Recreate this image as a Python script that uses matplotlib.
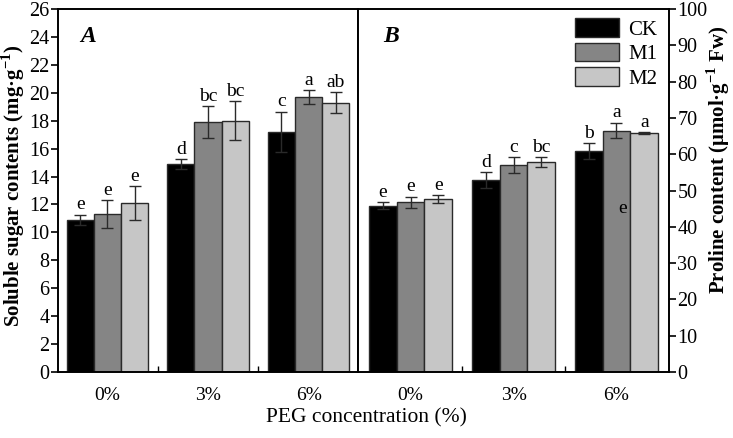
import numpy as np
import matplotlib
matplotlib.use("Agg")
import matplotlib.pyplot as plt
from matplotlib.ticker import MultipleLocator, FixedLocator

plt.rcParams['font.family'] = ['Liberation Serif', 'DejaVu Serif']
plt.rcParams['mathtext.fontset'] = 'custom'
plt.rcParams['mathtext.rm'] = 'Liberation Serif'
plt.rcParams['mathtext.bf'] = 'Liberation Serif:bold'

# data
conc = ["0%", "3%", "6%"]
treatments = ["CK", "M1", "M2"]
colors = ["#000000", "#858585", "#c6c6c6"]

sugar = [[10.9, 14.9, 17.2],     # CK
         [11.3, 17.9, 19.7],     # M1
         [12.1, 18.0, 19.3]]     # M2
sugar_err = [[0.38, 0.36, 1.45],
             [1.0, 1.12, 0.5],
             [1.2, 1.4, 0.72]]
sugar_lbl = [["e", "d", "c"],
             ["e", "bc", "a"],
             ["e", "bc", "ab"]]

proline = [[45.8, 52.9, 60.8],
           [46.7, 57.0, 66.5],
           [47.6, 57.8, 65.9]]
proline_err = [[1.0, 2.1, 2.2],
               [1.55, 2.1, 2.15],
               [1.1, 1.4, 0.2]]
proline_lbl = [["e", "d", "b"],
               ["e", "c", "a"],
               ["e", "bc", "a"]]

W, H = 733, 438
fig = plt.figure(figsize=(W / 100, H / 100), dpi=100)
bot = (H - 372) / H
hgt = 363 / H
ax1 = fig.add_axes([58 / W, bot, 300 / W, hgt])
ax2 = fig.add_axes([358 / W, bot, 311 / W, hgt])

x = np.arange(len(conc))
bw = 0.27


def draw(ax, vals, errs, lbls, ymax):
    for i in range(3):
        xi = x + (i - 1) * bw
        ax.bar(xi, vals[i], bw, color=colors[i], edgecolor="#2a2a2a",
               linewidth=1.0, label=treatments[i], zorder=2)
        ax.errorbar(xi, vals[i], yerr=errs[i], fmt="none", ecolor="#2a2a2a",
                    elinewidth=1.0, capsize=4, capthick=1.0, zorder=3)
        for j in range(3):
            ax.annotate(lbls[i][j], (xi[j], vals[i][j] + errs[i][j]),
                        xytext=(0, 1), textcoords="offset points",
                        ha="center", va="bottom", fontsize=14)
    ax.set_ylim(0, ymax)
    ax.set_xticks(x)
    ax.set_xticklabels(conc, fontsize=14)
    ax.xaxis.set_minor_locator(FixedLocator([0.5, 1.5]))
    ax.tick_params(axis="x", which="major", length=0, pad=11)
    ax.tick_params(axis="x", which="minor", direction="in", length=4, width=1)
    for s in ax.spines.values():
        s.set_linewidth(1.4)


draw(ax1, sugar, sugar_err, sugar_lbl, 26)
ax1.set_xlim(-0.49, 2.49)
ax1.yaxis.set_major_locator(MultipleLocator(2))
ax1.tick_params(axis="y", direction="out", length=5, width=1.2, labelsize=14.5, pad=1)
ax1.set_ylabel("Soluble sugar contents (mg·g$^{\\mathbf{-1}}$)",
               fontsize=15, fontweight="bold")
ax1.yaxis.set_label_coords(-0.103, 0.512)
ax1.text(0.075, 0.925, "A", transform=ax1.transAxes, fontsize=17,
         fontweight="bold", style="italic", ha="left", va="center")

draw(ax2, proline, proline_err, proline_lbl, 100)
ax2.set_xlim(-0.51, 2.51)
ax2.yaxis.set_major_locator(MultipleLocator(10))
ax2.yaxis.tick_right()
ax2.yaxis.set_label_position("right")
ax2.tick_params(axis="y", direction="out", length=5, width=1.2, labelsize=14.5, pad=1)
ax2.set_ylabel("Proline content (μmol·g$^{\\mathbf{-1}}$ Fw)",
               fontsize=15, fontweight="bold", rotation=90)
ax2.yaxis.set_label_coords(1.115, 0.585)
ax2.text(0.08, 0.925, "B", transform=ax2.transAxes, fontsize=17,
         fontweight="bold", style="italic", ha="left", va="center")
# stray letter present in the original figure
ax2.text(2.06, 45, "e", fontsize=14, ha="center", va="center", zorder=4)

ax2.legend(loc="upper left", bbox_to_anchor=(0.698, 0.975), frameon=False,
           fontsize=15, handlelength=2.1, handleheight=1.0,
           labelspacing=0.15, handletextpad=0.45, borderaxespad=0,
           borderpad=0)

fig.text(366 / W, 1 - 418 / H, "PEG concentration (%)", ha="center",
         va="center", fontsize=15.5)

fig.savefig("out.png", dpi=100)
